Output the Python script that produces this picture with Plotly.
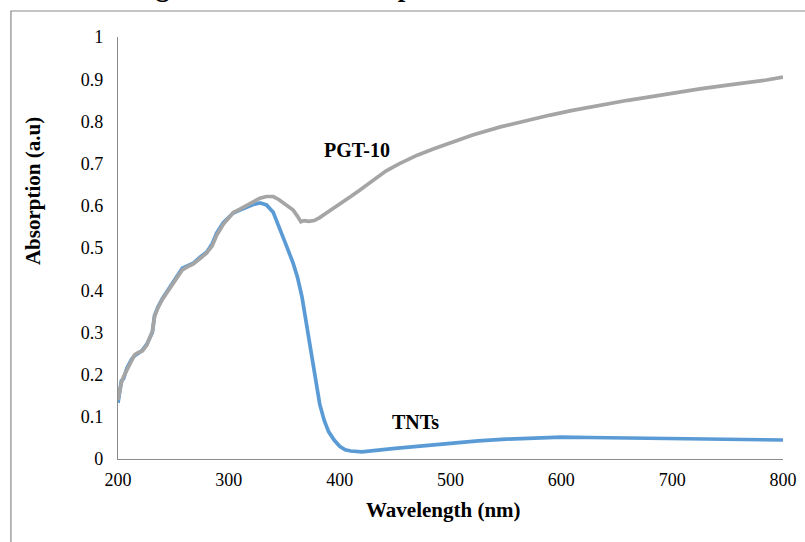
import plotly.graph_objects as go

# ---- data ----
tnt_wl = [200, 203, 205, 208, 212, 215, 218, 222, 226, 229, 231, 233, 236, 240, 245, 250, 254, 258,
          263, 268, 274, 280, 285, 289, 295, 300, 304, 310, 316, 322, 328, 334, 340, 346, 352, 358,
          362, 366, 370, 374, 378, 382, 386, 390, 395, 400, 405, 410, 420, 430, 450, 475, 500, 525,
          550, 575, 600, 625, 650, 675, 700, 725, 750, 775, 800]
tnt_abs = [0.133, 0.185, 0.19, 0.215, 0.235, 0.245, 0.25, 0.258, 0.272, 0.29, 0.30, 0.34, 0.36, 0.38,
           0.40, 0.42, 0.438, 0.452, 0.458, 0.464, 0.478, 0.49, 0.51, 0.535, 0.56, 0.573, 0.583, 0.59,
           0.597, 0.603, 0.607, 0.602, 0.585, 0.547, 0.505, 0.464, 0.43, 0.384, 0.32, 0.26, 0.19, 0.13,
           0.092, 0.065, 0.045, 0.03, 0.022, 0.019, 0.017, 0.019, 0.025, 0.031, 0.038, 0.043, 0.047,
           0.05, 0.052, 0.051, 0.05, 0.048, 0.047, 0.046, 0.045, 0.045, 0.045]

pgt_wl = [200, 203, 205, 208, 212, 215, 218, 222, 226, 229, 231, 233, 236, 240, 245, 250, 254, 258,
          263, 268, 274, 280, 285, 289, 295, 300, 304, 310, 316, 322, 328, 334, 340, 345, 349, 354,
          358, 362, 365, 368, 372, 377, 382, 388, 395, 403, 410, 418, 430, 442, 454, 470, 485, 500,
          520, 545, 570, 590, 610, 635, 660, 680, 700, 725, 750, 771, 785, 800]
pgt_abs = [0.14, 0.18, 0.195, 0.212, 0.232, 0.247, 0.252, 0.256, 0.27, 0.288, 0.302, 0.338, 0.358,
           0.378, 0.398, 0.418, 0.435, 0.448, 0.456, 0.462, 0.475, 0.488, 0.505, 0.53, 0.556, 0.572,
           0.584, 0.592, 0.6, 0.608, 0.618, 0.622, 0.622, 0.615, 0.608, 0.598, 0.59, 0.575, 0.562,
           0.565, 0.563, 0.565, 0.572, 0.583, 0.595, 0.608, 0.622, 0.637, 0.661, 0.683, 0.70, 0.72,
           0.735, 0.749, 0.768, 0.787, 0.803, 0.815, 0.826, 0.839, 0.85, 0.858, 0.867, 0.877, 0.886,
           0.893, 0.898, 0.905]

x_ticks = [200, 300, 400, 500, 600, 700, 800]
y_ticks = [0, 0.1, 0.2, 0.3, 0.4, 0.5, 0.6, 0.7, 0.8, 0.9, 1]
y_tick_labels = ["0", "0.1", "0.2", "0.3", "0.4", "0.5", "0.6", "0.7", "0.8", "0.9", "1"]

FONT = "Liberation Serif"

fig = go.Figure()
fig.add_trace(go.Scatter(x=tnt_wl, y=tnt_abs, mode="lines", name="TNTs",
                         line=dict(color="#5B9BD5", width=3.7)))
fig.add_trace(go.Scatter(x=pgt_wl, y=pgt_abs, mode="lines", name="PGT-10",
                         line=dict(color="#A5A5A5", width=3.7)))

fig.update_layout(
    width=805, height=542,
    margin=dict(l=118, r=22, t=37, b=83),
    paper_bgcolor="white", plot_bgcolor="white",
    showlegend=False,
    font=dict(family=FONT, color="#000000"),
    xaxis=dict(range=[200, 800], tickvals=x_ticks, ticks="", showgrid=False, zeroline=False,
               showline=True, linecolor="#8C8C8C", linewidth=1.3, automargin=False,
               tickfont=dict(family=FONT, size=18, color="#000"), ticklabelstandoff=4),
    yaxis=dict(range=[0, 1], tickvals=y_ticks, ticktext=y_tick_labels, ticks="", showgrid=False,
               zeroline=False, showline=True, linecolor="#8C8C8C", linewidth=1.3, automargin=False,
               tickfont=dict(family=FONT, size=18, color="#000"), ticklabelstandoff=10),
)

fig.add_shape(type="rect", xref="paper", yref="paper", x0=-0.161, x1=1.2, y0=-0.3, y1=1.0616,
              line=dict(color="#8A8A8A", width=1.2), fillcolor="rgba(0,0,0,0)", layer="below")

fig.add_annotation(text="<b>Absorption (a.u)</b>", xref="paper", yref="paper", x=-0.1278, y=0.635,
                   xanchor="center", yanchor="middle",
                   textangle=-90, showarrow=False, font=dict(family=FONT, size=21, color="#000"))
fig.add_annotation(text="<b>Wavelength (nm)</b>", xref="paper", yref="paper", x=0.490, y=-0.1209,
                   xanchor="center", yanchor="middle",
                   showarrow=False, font=dict(family=FONT, size=21, color="#000"))
fig.add_annotation(text="<b>PGT-10</b>", x=416, y=0.732, showarrow=False,
                   xanchor="center", yanchor="middle",
                   font=dict(family=FONT, size=20, color="#000"))
fig.add_annotation(text="<b>TNTs</b>", x=468, y=0.088, showarrow=False,
                   xanchor="center", yanchor="middle",
                   font=dict(family=FONT, size=20, color="#000"))
fig.add_annotation(text="<b>Figure 6: UV-Vis absorption</b>", xref="paper", yref="paper",
                   x=(131 - 118) / 665, y=(459 - 3) / 422, xanchor="left", yanchor="bottom",
                   showarrow=False, borderpad=0, font=dict(family=FONT, size=27, color="#000"))

fig.write_html("out.html")
